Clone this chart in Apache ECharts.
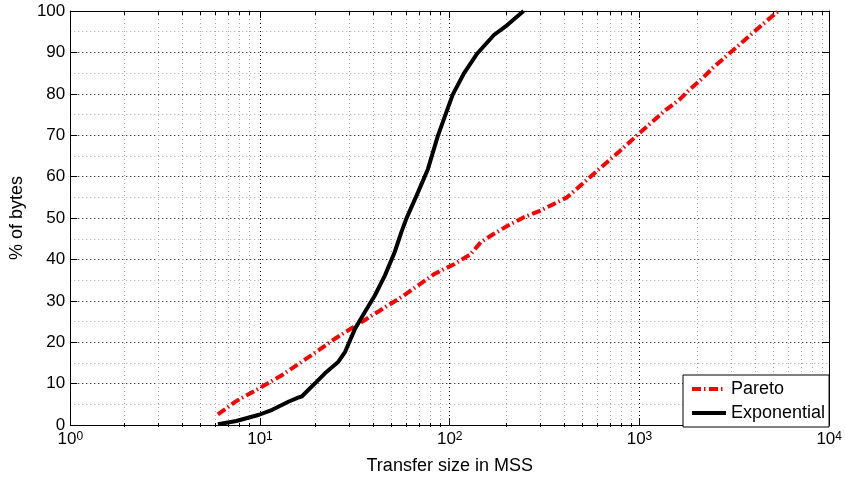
<!DOCTYPE html>
<html>
<head>
<meta charset="utf-8">
<script src="https://cdn.jsdelivr.net/npm/echarts@6/dist/echarts.min.js"></script>
<style>
  html, body { margin: 0; padding: 0; background: #fff; }
  #chart { width: 845px; height: 480px; }
</style>
</head>
<body>
<div id="chart"></div>
<script>
// transfer size (MSS) vs cumulative % of bytes
var paretoX = [6, 7.45, 9.9, 13.1, 16.6, 20.4, 24.9, 29.2, 34.3, 47.3, 55.6, 83, 106, 129, 146, 171, 201, 246, 301, 353, 415, 487, 571, 672, 789, 1005, 1178, 1384, 1625, 1834, 2153, 2428, 2851, 3349, 3934, 4624, 5400];
var paretoY = [2.6, 5.7, 8.9, 12.1, 15.3, 18.1, 20.9, 22.9, 24.9, 28.9, 30.9, 36.5, 38.9, 41.3, 44.2, 46.2, 48.1, 50.2, 51.8, 53.4, 55.0, 57.8, 60.6, 63.4, 66.2, 70.6, 73.4, 76.2, 78.6, 81.0, 83.8, 86.2, 89.0, 91.8, 94.6, 97.4, 100];

var expX = [6, 7.5, 9.9, 11.6, 14.2, 16.0, 16.6, 19.9, 22.0, 25.9, 28.1, 31.7, 35.7, 40.3, 45.5, 51.3, 55.6, 59.0, 68.0, 76.7, 86.5, 95.7, 103.7, 119, 140, 171, 201, 245];
var expY = [0.2, 1.0, 2.5, 3.7, 5.7, 6.7, 6.9, 10.5, 12.5, 15.3, 17.7, 23.3, 27.3, 31.3, 36.1, 41.8, 46.6, 49.8, 56.2, 61.8, 69.8, 75.4, 79.8, 85.0, 89.8, 94.2, 96.6, 100];

var seriesNames = ['Pareto', 'Exponential'];

// axis ticks
var decades = [1, 10, 100, 1000, 10000];
var minorSteps = [2, 3, 4, 5, 6, 7, 8, 9];
var minorTicks = [];
decades.slice(0, 4).forEach(function (d) {
  minorSteps.forEach(function (k) { minorTicks.push(d * k); });
});

var font = '"Liberation Sans", Arial, Helvetica, sans-serif';
var box = { left: 67, right: 14, top: 11, bottom: 53 };

function pow10Label(v) {
  var e = Math.round(Math.log(v) / Math.LN10);
  return '{b|10}{s|' + e + '}';
}

var myChart = echarts.init(document.getElementById('chart'));

var option = {
  animation: false,
  backgroundColor: '#fff',
  grid: [
    { left: box.left, right: box.right, top: box.top, bottom: box.bottom },
    { left: box.left, right: box.right, top: box.top, bottom: box.bottom }
  ],
  legend: {
    data: seriesNames,
    orient: 'vertical',
    left: 683,
    top: 375,
    backgroundColor: '#fff',
    borderColor: '#000',
    borderWidth: 1,
    borderRadius: 0,
    padding: [5, 4, 5, 7],
    itemWidth: 34,
    itemHeight: 14,
    itemGap: 6,
    itemStyle: { opacity: 0 },
    lineStyle: { width: 4 },
    textStyle: { fontSize: 18, fontFamily: font, color: '#000', lineHeight: 16 }
  },
  xAxis: [
    {
      gridIndex: 0,
      type: 'log',
      logBase: 10,
      min: 1,
      max: 10000,
      position: 'bottom',
      name: 'Transfer size in MSS',
      nameLocation: 'middle',
      nameGap: 28,
      nameTextStyle: { fontSize: 18, fontFamily: font, color: '#000' },
      axisLine: { show: true, onZero: false, lineStyle: { color: '#000', width: 1 } },
      axisTick: { show: true, inside: true, length: 7, customValues: decades, lineStyle: { color: '#000' } },
      axisLabel: {
        customValues: decades,
        margin: 6,
        formatter: pow10Label,
        rich: {
          b: { fontSize: 17, fontFamily: font, color: '#000', lineHeight: 17, verticalAlign: 'bottom' },
          s: { fontSize: 12, fontFamily: font, color: '#000', lineHeight: 12, padding: [0, 0, 9, 0], verticalAlign: 'top' }
        }
      },
      splitLine: { show: true, lineStyle: { color: '#000', width: 1, type: [1, 3] } }
    },
    {
      gridIndex: 0,
      type: 'log',
      logBase: 10,
      min: 1,
      max: 10000,
      position: 'top',
      axisLine: { show: true, onZero: false, lineStyle: { color: '#000', width: 1 } },
      axisTick: { show: true, inside: true, length: 7, customValues: decades, lineStyle: { color: '#000' } },
      axisLabel: { show: false },
      splitLine: { show: false }
    },
    {
      gridIndex: 1,
      type: 'log',
      logBase: 10,
      min: 1,
      max: 10000,
      position: 'bottom',
      axisLine: { show: false, onZero: false },
      axisTick: { show: true, inside: true, length: 4, customValues: minorTicks, lineStyle: { color: '#000' } },
      axisLabel: { show: false },
      splitLine: { show: true, lineStyle: { color: '#aaa', width: 1, type: [1, 3] } }
    },
    {
      gridIndex: 1,
      type: 'log',
      logBase: 10,
      min: 1,
      max: 10000,
      position: 'top',
      axisLine: { show: false, onZero: false },
      axisTick: { show: true, inside: true, length: 4, customValues: minorTicks, lineStyle: { color: '#000' } },
      axisLabel: { show: false },
      splitLine: { show: false }
    }
  ],
  yAxis: [
    {
      gridIndex: 0,
      type: 'value',
      min: 0,
      max: 100,
      interval: 10,
      position: 'left',
      name: '% of bytes',
      nameLocation: 'middle',
      nameGap: 40,
      nameRotate: 90,
      nameTextStyle: { fontSize: 18, fontFamily: font, color: '#000' },
      axisLine: { show: true, onZero: false, lineStyle: { color: '#000', width: 1 } },
      axisTick: { show: true, inside: true, length: 7, lineStyle: { color: '#000' } },
      axisLabel: { fontSize: 17, fontFamily: font, color: '#000', margin: 5 },
      splitLine: { show: true, lineStyle: { color: '#000', width: 1, type: [1, 3] } },
      minorTick: { show: false, splitNumber: 2 },
      minorSplitLine: { show: true, lineStyle: { color: '#aaa', width: 1, type: [1, 3] } }
    },
    {
      gridIndex: 0,
      type: 'value',
      min: 0,
      max: 100,
      interval: 10,
      position: 'right',
      axisLine: { show: true, onZero: false, lineStyle: { color: '#000', width: 1 } },
      axisTick: { show: true, inside: true, length: 7, lineStyle: { color: '#000' } },
      axisLabel: { show: false },
      splitLine: { show: false }
    },
    {
      gridIndex: 1,
      type: 'value',
      min: 0,
      max: 100,
      show: false
    }
  ],
  series: [
    {
      name: seriesNames[0],
      type: 'line',
      xAxisIndex: 0,
      yAxisIndex: 0,
      data: paretoX.map(function (x, i) { return [x, paretoY[i]]; }),
      symbol: 'none',
      showSymbol: false,
      itemStyle: { color: '#ff0000' },
      lineStyle: { color: '#ff0000', width: 4, type: [9, 3, 1.5, 3.5], cap: 'butt' },
      z: 3
    },
    {
      name: seriesNames[1],
      type: 'line',
      xAxisIndex: 0,
      yAxisIndex: 0,
      data: expX.map(function (x, i) { return [x, expY[i]]; }),
      symbol: 'none',
      showSymbol: false,
      itemStyle: { color: '#000' },
      lineStyle: { color: '#000', width: 4, type: 'solid' },
      z: 4
    }
  ]
};

option && myChart.setOption(option);
</script>
</body>
</html>
